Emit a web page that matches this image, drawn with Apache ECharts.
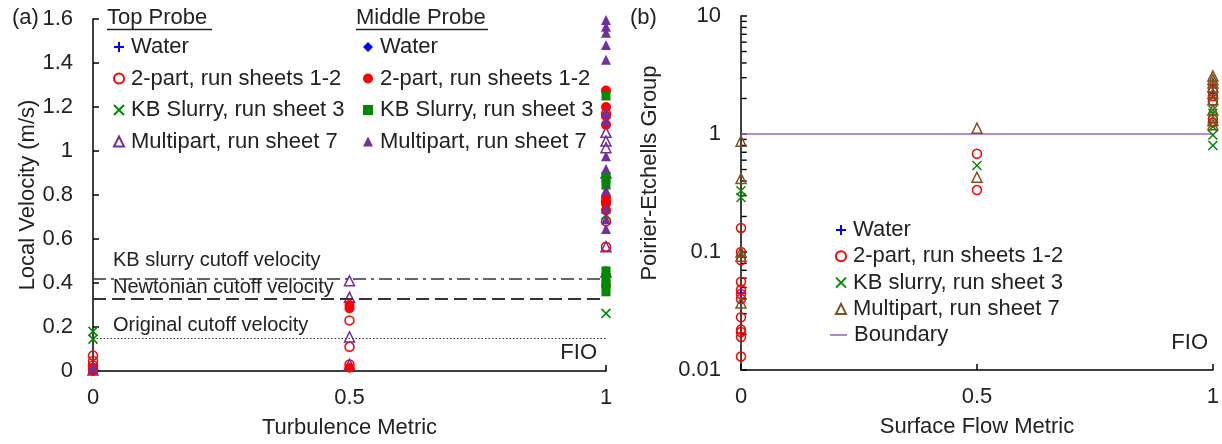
<!DOCTYPE html>
<html><head><meta charset="utf-8">
<script src="https://cdn.jsdelivr.net/npm/echarts@6/dist/echarts.min.js"></script>
<style>html,body{margin:0;padding:0;background:#fff}#c{width:1222px;height:444px}</style>
</head><body><div id="c"></div>
<script>
const FONT = '"Liberation Sans", Arial, Helvetica, sans-serif';
const TXT = '#222222';

// ---------- Panel (a): Local velocity vs turbulence metric ----------
const aXTicks = [0, 0.5, 1];
const aTopWater  = [[0,0.01],[0,0.0],[1,0.86],[1,1.15]];
const aTop2Part  = [[0,0.07],[0,0.045],[0,0.025],[0,0.01],[0.5,0.23],[0.5,0.11],[0.5,0.03],[1,1.17],[1,0.77],[1,0.68],[1,0.565]];
const aTopKB     = [[0,0.18],[0,0.145],[1,0.71],[1,0.262]];
const aTopMulti  = [[0,0.005],[0.5,0.41],[0.5,0.335],[0.5,0.155],[0.5,0.03],[1,1.085],[1,1.045],[1,1.015],[1,0.90],[1,0.565],[1,0.45]];
const aMidWater  = [[0,0.005],[1,0.87]];
const aMid2Part  = [[0,0.0],[0,0.015],[0.5,0.30],[0.5,0.285],[0.5,0.015],[1,1.275],[1,1.20],[1,1.16],[1,1.12],[1,0.79],[1,0.76],[1,0.73],[1,0.39]];
const aMidKB     = [[1,1.25],[1,0.885],[1,0.845],[1,0.455],[1,0.425],[1,0.395],[1,0.36]];
const aMidMulti  = [[0,0.015],[1,1.595],[1,1.565],[1,1.537],[1,1.482],[1,1.415],[1,1.175],[1,1.135],[1,0.976],[1,0.918],[1,0.82],[1,0.737],[1,0.69],[1,0.646]];
const aCutoffValues = [0.42, 0.33, 0.15];
const aCutoffLabels = ['KB slurry cutoff velocity', 'Newtonian cutoff velocity', 'Original cutoff velocity'];
const aLegendNames = ['Water', '2-part, run sheets 1-2', 'KB Slurry, run sheet 3', 'Multipart, run sheet 7'];

// ---------- Panel (b): Poirier-Etchells group vs surface flow metric ----------
const bWater  = [[0,0.045],[1,2.6],[1,2.2]];
const b2Part  = [[0,0.16],[0,0.10],[0,0.085],[0,0.056],[0,0.048],[0,0.044],[0,0.040],[0,0.028],[0,0.022],[0,0.021],[0,0.019],[0,0.013],[0.5,0.68],[0.5,0.335],[1,2.3],[1,2.1],[1,1.9],[1,1.35],[1,1.25]];
const bKB     = [[0,0.33],[0,0.29],[0.5,0.54],[1,1.6],[1,1.5],[1,1.15],[1,0.98],[1,0.8]];
const bMulti  = [[0,0.87],[0,0.42],[0,0.10],[0,0.092],[0,0.037],[0.5,1.12],[0.5,0.43],[1,3.1],[1,2.9],[1,2.7],[1,2.5],[1,2.2],[1,1.95],[1,1.6],[1,1.3],[1,1.2]];
const bBoundary = [[0,1],[1,1]];
const bMinorTicks = [0.02,0.03,0.04,0.05,0.06,0.07,0.08,0.09,0.2,0.3,0.4,0.5,0.6,0.7,0.8,0.9,2,3,4,5,6,7,8,9];
const bLegendNames = ['Water', '2-part, run sheets 1-2', 'KB slurry, run sheet 3', 'Multipart, run sheet 7', 'Boundary'];

const BLUE = '#0000ff', RED = '#ff0000', GREEN = '#008a00', PURPLE = '#7030a0', BROWN = '#7f4f1f', LINEPURPLE = '#9966cc';
const PLUS = 'path://M0,5L10,5M5,0L5,10';
const CROSS = 'path://M1,1L9,9M9,1L1,9';

function hollow(name, data, symbol, color, size, xi) {
  return { type: 'scatter', name, data, xAxisIndex: xi, yAxisIndex: xi, symbol, symbolSize: size, silent: true,
    itemStyle: { color: 'rgba(255,255,255,0)', borderColor: color, borderWidth: 1.5, opacity: 1 } };
}
function filled(name, data, symbol, color, size, xi) {
  return { type: 'scatter', name, data, xAxisIndex: xi, yAxisIndex: xi, symbol, symbolSize: size, silent: true,
    itemStyle: { color, opacity: 1 } };
}
const lineStyles = [
  { type: [13, 5, 3, 5], color: '#333', width: 1.5 },
  { type: [13, 6], color: '#333', width: 1.8 },
  { type: [1.5, 2], color: '#333', width: 1.2 }
];
const labelDist = [[20, 8], [20, 1], [20, 3]];

const topSeries = hollow('T|' + aLegendNames[0], aTopWater, PLUS, BLUE, 9, 0);
topSeries.markLine = {
  silent: true, symbol: 'none', animation: false,
  data: aCutoffValues.map((v, i) => ({
    yAxis: v, lineStyle: lineStyles[i],
    label: { show: true, formatter: aCutoffLabels[i], position: 'insideStartTop', distance: labelDist[i],
      fontSize: 20, color: TXT, fontFamily: FONT }
  }))
};

const series = [
  topSeries,
  hollow('T|' + aLegendNames[1], aTop2Part, 'circle', RED, 9, 0),
  hollow('T|' + aLegendNames[2], aTopKB, CROSS, GREEN, 9, 0),
  hollow('T|' + aLegendNames[3], aTopMulti, 'triangle', PURPLE, 10, 0),
  filled('M|' + aLegendNames[0], aMidWater, 'diamond', BLUE, 9, 0),
  filled('M|' + aLegendNames[1], aMid2Part, 'circle', RED, 10, 0),
  filled('M|' + aLegendNames[2], aMidKB, 'rect', GREEN, 9, 0),
  filled('M|' + aLegendNames[3], aMidMulti, 'triangle', PURPLE, 10, 0),
  {
    type: 'line', name: 'B|' + bLegendNames[4], data: bBoundary, xAxisIndex: 1, yAxisIndex: 1,
    symbol: 'none', showSymbol: false, silent: true, lineStyle: { color: LINEPURPLE, width: 1.5 }, itemStyle: { color: LINEPURPLE }, z: 1
  },
  hollow('B|' + bLegendNames[0], bWater, PLUS, BLUE, 9, 1),
  hollow('B|' + bLegendNames[1], b2Part, 'circle', RED, 9, 1),
  hollow('B|' + bLegendNames[2], bKB, CROSS, GREEN, 9, 1),
  hollow('B|' + bLegendNames[3], bMulti, 'triangle', BROWN, 10, 1),
  {
    // minor ticks of the log axis (2..9 x 10^k), placed through the axis scale
    type: 'scatter', name: 'minorTicks', xAxisIndex: 1, yAxisIndex: 1, silent: true, clip: false, z: 1,
    data: bMinorTicks.map(v => [0, v]),
    symbol: 'rect', symbolSize: [5, 1.4], symbolOffset: [3.2, 0],
    itemStyle: { color: '#000', opacity: 1 }
  }
];

function axisCommon() {
  return {
    axisLine: { onZero: false, lineStyle: { color: '#000', width: 1.5 } },
    axisTick: { inside: true, length: 6, lineStyle: { color: '#000', width: 1.5 } },
    axisLabel: { fontSize: 22, color: TXT, fontFamily: FONT },
    splitLine: { show: false },
    nameLocation: 'middle',
    nameTextStyle: { fontSize: 22, color: TXT, fontFamily: FONT }
  };
}
const xA = Object.assign(axisCommon(), { gridIndex: 0, type: 'value', min: aXTicks[0], max: aXTicks[2], interval: 0.5, name: 'Turbulence Metric', nameGap: 46 });
xA.axisLabel.margin = 16;
const yA = Object.assign(axisCommon(), { gridIndex: 0, type: 'value', min: 0, max: 1.6, interval: 0.2, name: 'Local Velocity (m/s)', nameGap: 54 });
yA.axisLabel.margin = 20;
const xB = Object.assign(axisCommon(), { gridIndex: 1, type: 'value', min: 0, max: 1, interval: 0.5, name: 'Surface Flow Metric', nameGap: 46 });
xB.axisLabel.margin = 16;
const yB = Object.assign(axisCommon(), { gridIndex: 1, type: 'log', logBase: 10, min: 0.01, max: 10, name: 'Poirier-Etchells Group', nameGap: 80 });
yB.axisLabel.margin = 20;
yB.nameTextStyle.padding = [0, 0, 0, 40];

const legendText = { fontSize: 22, color: TXT, fontFamily: FONT, padding: [0, 0, 0, 2] };
const fmt = n => n.split('|')[1];

const option = {
  animation: false,
  backgroundColor: '#ffffff',
  textStyle: { fontFamily: FONT },
  grid: [
    { left: 93, right: 616, top: 19, bottom: 71, containLabel: false },
    { left: 741, right: 4, top: 16, bottom: 74, containLabel: false }
  ],
  xAxis: [xA, xB],
  yAxis: [yA, yB],
  legend: [
    { orient: 'vertical', left: 108, top: 31, itemGap: 9.5, itemWidth: 10, itemHeight: 10, selectedMode: false,
      formatter: fmt, textStyle: legendText, data: aLegendNames.map(n => 'T|' + n) },
    { orient: 'vertical', left: 358, top: 31, itemGap: 9.5, itemWidth: 10, itemHeight: 10, selectedMode: false,
      formatter: fmt, textStyle: legendText, data: aLegendNames.map(n => 'M|' + n) },
    { orient: 'vertical', left: 830, top: 214, itemGap: 4.3, itemWidth: 10, itemHeight: 10, selectedMode: false,
      formatter: fmt, textStyle: legendText, data: bLegendNames.slice(0, 4).map(n => 'B|' + n) },
    { orient: 'vertical', left: 825, top: 319, itemWidth: 17, itemHeight: 1.6, selectedMode: false,
      formatter: fmt, textStyle: legendText,
      data: [{ name: 'B|' + bLegendNames[4], icon: 'rect', itemStyle: { color: LINEPURPLE, borderWidth: 0 } }] }
  ],
  graphic: [
    { type: 'text', x: 12, y: 18, style: { text: '(a)', font: '22px ' + FONT, fill: TXT, verticalAlign: 'middle' } },
    { type: 'text', x: 107, y: 18, style: { text: 'Top Probe', font: '22px ' + FONT, fill: TXT, verticalAlign: 'middle' } },
    { type: 'line', shape: { x1: 107, y1: 29.5, x2: 212, y2: 29.5 }, style: { stroke: TXT, lineWidth: 1.5 } },
    { type: 'text', x: 356, y: 18, style: { text: 'Middle Probe', font: '22px ' + FONT, fill: TXT, verticalAlign: 'middle' } },
    { type: 'line', shape: { x1: 356, y1: 29.5, x2: 488, y2: 29.5 }, style: { stroke: TXT, lineWidth: 1.5 } },
    { type: 'text', x: 597, y: 353, style: { text: 'FIO', font: '22px ' + FONT, fill: TXT, align: 'right', verticalAlign: 'middle' } },
    { type: 'text', x: 630, y: 18, style: { text: '(b)', font: '22px ' + FONT, fill: TXT, verticalAlign: 'middle' } },
    { type: 'text', x: 1208, y: 343, style: { text: 'FIO', font: '22px ' + FONT, fill: TXT, align: 'right', verticalAlign: 'middle' } }
  ],
  series
};
const chart = echarts.init(document.getElementById('c'));
chart.setOption(option);
</script>
</body></html>
